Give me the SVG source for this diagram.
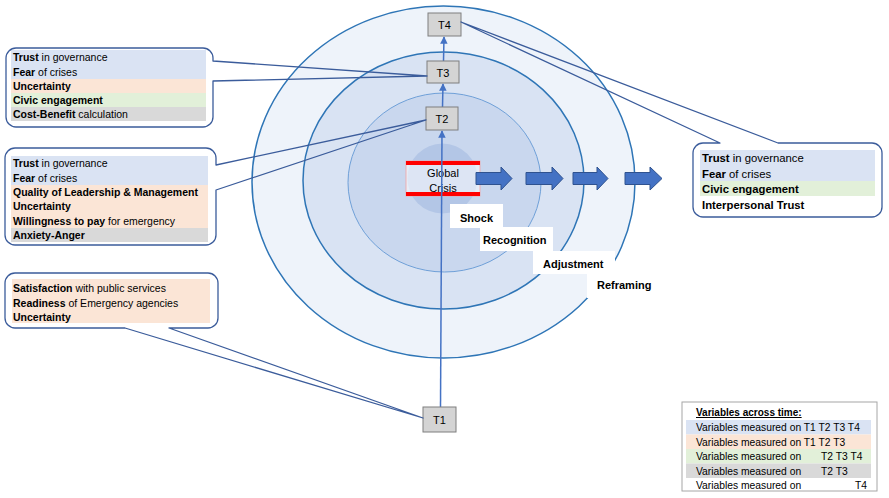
<svg xmlns="http://www.w3.org/2000/svg" width="889" height="498" viewBox="0 0 889 498">
<defs>
<style>
text{font-family:"Liberation Sans",Arial,sans-serif;fill:#000}
.t{font-size:10.5px}
.tr{font-size:11.3px}
.b{font-weight:bold}
.lg{font-size:10.3px}
.ph{font-size:11px;font-weight:bold}
.bub{fill:none;stroke:#3b5c9b;stroke-width:1.3;stroke-linejoin:round}
.tb rect{fill:#d4d4d4;stroke:#7f7f7f;stroke-width:1}
.tb text{font-size:11px;text-anchor:middle}
.blue{fill:#dae3f3}.orange{fill:#fbe5d6}.green{fill:#e2f0d9}.gray{fill:#d9d9d9}
.conn{stroke:#4472c4;stroke-width:1.5;fill:none;marker-end:url(#ah)}
.barr{fill:#4472c4;stroke:#2f528f;stroke-width:1}
.lbl{fill:#fff}
</style>
<marker id="ah" viewBox="0 0 10 10" refX="9" refY="5" markerWidth="5" markerHeight="5" orient="auto" markerUnits="strokeWidth">
<path d="M0,0 L10,5 L0,10 Z" fill="#4472c4"/>
</marker>
</defs>

<g id="rings">
<ellipse cx="443.5" cy="182" rx="191.5" ry="176" fill="#eef3fa" stroke="#2e75b6" stroke-width="1.5"/>
<ellipse cx="443.5" cy="180.5" rx="140.5" ry="128.5" fill="#d9e3f3" stroke="#2e75b6" stroke-width="1.5"/>
<ellipse cx="444.5" cy="182.5" rx="96.5" ry="89.5" fill="#c9d7ee" stroke="#6fa0d8" stroke-width="1"/>
<circle cx="442.5" cy="178.5" r="35" fill="#b3c6e6"/>
</g>

<g id="phase-labels">
<rect class="lbl" x="450" y="204" width="53" height="24"/>
<rect class="lbl" x="480" y="227" width="73" height="24"/>
<rect class="lbl" x="533" y="251" width="82" height="23"/>
<rect class="lbl" x="587" y="273" width="73" height="25"/>
<text class="ph" x="460" y="222">Shock</text>
<text class="ph" x="483" y="244">Recognition</text>
<text class="ph" x="543" y="268">Adjustment</text>
<text class="ph" x="597" y="289">Reframing</text>
</g>

<g id="global-crisis">
<rect x="406" y="161" width="74" height="35" fill="#ffffff" fill-opacity="0.55" stroke="#f3a3a3" stroke-width="0.8"/>
<rect x="406" y="161" width="74" height="4" fill="#ff0000"/>
<rect x="406" y="192" width="74" height="4" fill="#ff0000"/>
<text x="443" y="177" font-size="11" text-anchor="middle">Global</text>
<text x="443" y="192" font-size="11" text-anchor="middle">Crisis</text>
</g>

<g id="phase-arrows">
<path class="barr" d="M476,172.5 H501 V167 L512,178.5 L501,190 V184.5 H476 Z"/>
<path class="barr" d="M526,172.5 H552 V167 L563,178.5 L552,190 V184.5 H526 Z"/>
<path class="barr" d="M573,172.5 H597 V167 L608,178.5 L597,190 V184.5 H573 Z"/>
<path class="barr" d="M625,172.5 H650 V167 L662,178.5 L650,190 V184.5 H625 Z"/>
</g>

<g id="connectors">
<line class="conn" x1="440.5" y1="407" x2="442" y2="131"/>
<line class="conn" x1="442.5" y1="107" x2="443" y2="84"/>
<line class="conn" x1="443.5" y1="61" x2="444" y2="37"/>
</g>

<g id="T1" class="tb"><rect x="423" y="407" width="33" height="25"/><text x="439.5" y="424">T1</text></g>
<g id="T2" class="tb"><rect x="426" y="107" width="32" height="23"/><text x="442" y="123">T2</text></g>
<g id="T3" class="tb"><rect x="427" y="61" width="32" height="22"/><text x="443" y="77">T3</text></g>
<g id="T4" class="tb"><rect x="428" y="13" width="33" height="23"/><text x="444.5" y="29">T4</text></g>

<g id="callout-T3">
<rect class="blue" x="11" y="50" width="195" height="29"/>
<rect class="orange" x="11" y="79" width="195" height="14"/>
<rect class="green" x="11" y="93" width="195" height="14"/>
<rect class="gray" x="11" y="107" width="195" height="14"/>
<path class="bub" d="M16,48 H203 A10,10 0 0 1 213,58 V61 L427,76 L213,81 V117 A10,10 0 0 1 203,127 H16 A10,10 0 0 1 6,117 V58 A10,10 0 0 1 16,48 Z"/>
<text class="t" x="13" y="61"><tspan class="b">Trust</tspan> in governance</text>
<text class="t" x="13" y="75.5"><tspan class="b">Fear</tspan> of crises</text>
<text class="t b" x="13" y="90">Uncertainty</text>
<text class="t b" x="13" y="104">Civic engagement</text>
<text class="t" x="13" y="118"><tspan class="b">Cost-Benefit</tspan> calculation</text>
</g>

<g id="callout-T2">
<rect class="blue" x="11" y="156" width="197" height="29"/>
<rect class="orange" x="11" y="185" width="197" height="43"/>
<rect class="gray" x="11" y="228" width="197" height="14"/>
<path class="bub" d="M15,148 H206 A10,10 0 0 1 216,158 V165 L426,120 L216,190 V235 A10,10 0 0 1 206,245 H15 A10,10 0 0 1 5,235 V158 A10,10 0 0 1 15,148 Z"/>
<text class="t" x="13" y="167"><tspan class="b">Trust</tspan> in governance</text>
<text class="t" x="13" y="181.5"><tspan class="b">Fear</tspan> of crises</text>
<text class="t b" x="13" y="196">Quality of Leadership &amp; Management</text>
<text class="t b" x="13" y="210">Uncertainty</text>
<text class="t" x="13" y="224.5"><tspan class="b">Willingness to pay</tspan> for emergency</text>
<text class="t b" x="13" y="239">Anxiety-Anger</text>
</g>

<g id="callout-T1">
<rect class="orange" x="12" y="279" width="198" height="44"/>
<path class="bub" d="M15,273 H208 A10,10 0 0 1 218,283 V318 A10,10 0 0 1 208,328 H169 L423,418 L125,328 H15 A10,10 0 0 1 5,318 V283 A10,10 0 0 1 15,273 Z"/>
<text class="t" x="13" y="292"><tspan class="b">Satisfaction</tspan> with public services</text>
<text class="t" x="13" y="306.5"><tspan class="b">Readiness</tspan> of Emergency agencies</text>
<text class="t b" x="13" y="321">Uncertainty</text>
</g>

<g id="callout-T4">
<rect class="blue" x="700" y="150" width="175" height="31"/>
<rect class="green" x="700" y="181" width="175" height="15"/>
<path class="bub" d="M703,143 H720 L461,22 L778,143 H872 A10,10 0 0 1 882,153 V207 A10,10 0 0 1 872,217 H703 A10,10 0 0 1 693,207 V153 A10,10 0 0 1 703,143 Z"/>
<text class="tr" x="702" y="162"><tspan class="b">Trust</tspan> in governance</text>
<text class="tr" x="702" y="177.5"><tspan class="b">Fear</tspan> of crises</text>
<text class="tr b" x="702" y="193">Civic engagement</text>
<text class="tr b" x="702" y="208.5">Interpersonal Trust</text>
</g>

<g id="legend">
<rect x="682" y="402" width="195" height="89" fill="#fff" stroke="#a6a6a6" stroke-width="1"/>
<rect class="blue" x="686" y="420" width="185" height="14.5"/>
<rect class="orange" x="686" y="434.5" width="185" height="14.5"/>
<rect class="green" x="686" y="449" width="185" height="14.5"/>
<rect class="gray" x="686" y="463.5" width="185" height="14.5"/>
<text x="696" y="416" font-size="10px" font-weight="bold" text-decoration="underline">Variables across time:</text>
<text class="lg" x="696" y="431">Variables measured on T1 T2 T3 T4</text>
<text class="lg" x="696" y="445.5">Variables measured on T1 T2 T3</text>
<text class="lg" x="696" y="460">Variables measured on</text>
<text class="lg" x="821" y="460">T2 T3 T4</text>
<text class="lg" x="696" y="474.5">Variables measured on</text>
<text class="lg" x="821" y="474.5">T2 T3</text>
<text class="lg" x="696" y="489">Variables measured on</text>
<text class="lg" x="855" y="489">T4</text>
</g>
</svg>
